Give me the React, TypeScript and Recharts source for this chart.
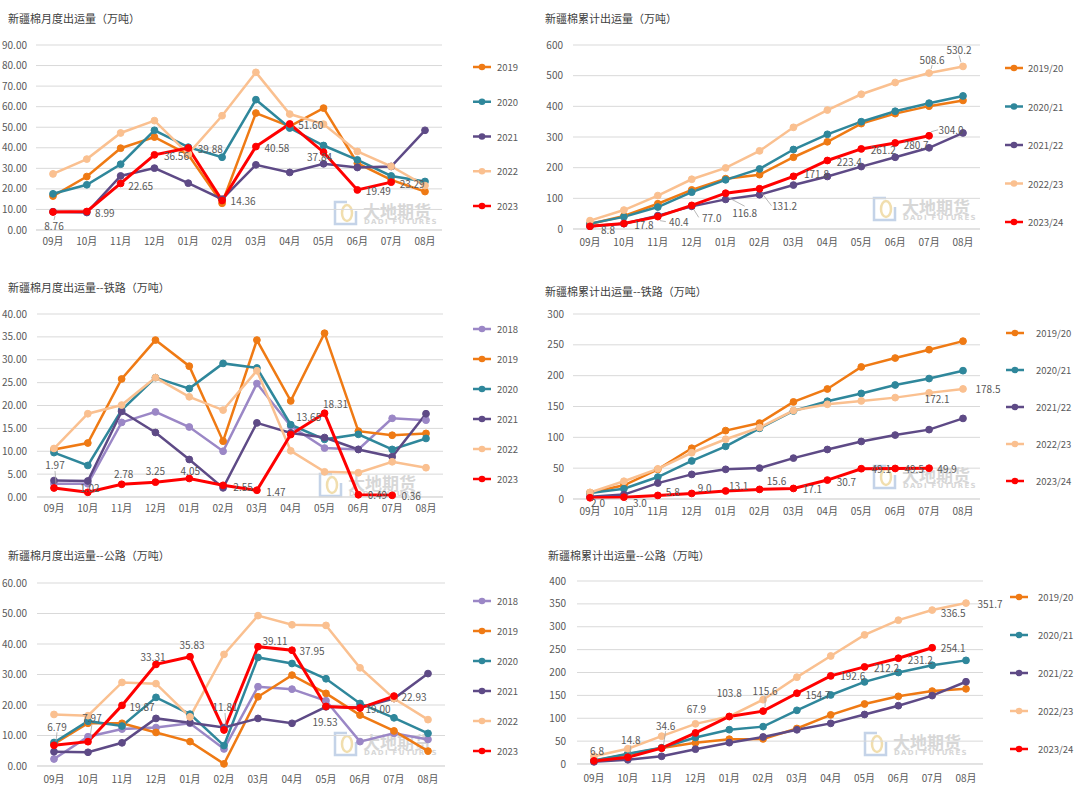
import React from 'react';
import { LineChart, Line, XAxis, YAxis, CartesianGrid, LabelList } from 'recharts';

const FONT = "'Noto Sans CJK SC', 'Noto Sans', sans-serif";
const GRID = '#D9D9D9';
const TXT = '#595959';

const C18 = '#9B87C6';
const C19 = '#EF7A14';
const C20 = '#2F879B';
const C21 = '#5E4A86';
const C22 = '#FAC090';
const C23 = '#FF0000';

const months = ['09月', '10月', '11月', '12月', '01月', '02月', '03月', '04月', '05月', '06月', '07月', '08月'];

// 月度出运量（合计）
const total2019 = [16.5, 26.0, 39.8, 45.2, 36.6, 13.0, 56.9, 50.4, 59.3, 32.5, 24.4, 18.7];
const total2020 = [17.6, 22.0, 32.0, 48.5, 40.3, 35.4, 63.4, 49.6, 41.1, 34.1, 26.3, 23.6];
const total2021 = [8.9, 8.5, 26.3, 30.1, 22.8, 15.0, 31.7, 28.0, 32.2, 30.4, 30.9, 48.5];
const total2022 = [27.3, 34.5, 47.2, 53.2, 37.0, 55.6, 76.7, 56.4, 51.5, 38.2, 31.0, 21.6];
const total2023 = [8.76, 8.99, 22.65, 36.56, 39.88, 14.36, 40.58, 51.6, 37.84, 19.49, 23.29];

// 累计出运量（合计）
const cum1920 = [16.5, 42.5, 82.3, 127.5, 164.1, 177.1, 234.0, 284.4, 343.7, 376.2, 400.6, 419.3];
const cum2021 = [17.6, 39.6, 71.6, 120.1, 160.4, 195.8, 259.2, 308.8, 349.9, 384.0, 410.3, 433.9];
const cum2122 = [8.9, 17.4, 43.7, 73.8, 96.6, 111.6, 143.3, 171.3, 203.5, 233.9, 264.8, 313.3];
const cum2223 = [27.3, 61.8, 109.0, 162.2, 199.2, 254.8, 331.5, 387.9, 439.4, 477.6, 508.6, 530.2];
const cum2324 = [8.8, 17.8, 40.4, 77.0, 116.8, 131.2, 171.8, 223.4, 261.2, 280.7, 304.0];

// 月度出运量--铁路
const rail2018 = [2.9, 2.9, 16.3, 18.6, 15.3, 10.0, 24.8, 15.5, 10.7, 10.4, 17.2, 16.8];
const rail2019 = [10.4, 11.8, 25.8, 34.3, 28.6, 12.2, 34.3, 21.0, 35.8, 14.4, 13.5, 13.9];
const rail2020 = [9.7, 6.9, 19.0, 26.1, 23.7, 29.2, 28.2, 15.8, 12.6, 13.7, 10.4, 12.8];
const rail2021 = [3.6, 3.5, 18.7, 14.1, 8.2, 2.0, 16.2, 14.0, 13.0, 10.4, 8.8, 18.2];
const rail2022 = [10.6, 18.2, 20.1, 26.1, 21.9, 19.0, 27.6, 10.1, 5.5, 5.3, 7.7, 6.4];
const rail2023 = [1.97, 1.02, 2.78, 3.25, 4.05, 2.55, 1.47, 13.65, 18.31, 0.49, 0.36];

// 累计出运量--铁路
const rcum1920 = [10.4, 22.2, 48.0, 82.3, 110.9, 123.1, 157.4, 178.4, 214.2, 228.6, 242.1, 256.0];
const rcum2021 = [9.7, 16.6, 35.6, 61.7, 85.4, 114.6, 142.8, 158.6, 171.2, 184.9, 195.3, 208.1];
const rcum2122 = [3.6, 7.1, 25.8, 39.9, 48.1, 50.1, 66.3, 80.3, 93.3, 103.7, 112.5, 130.7];
const rcum2223 = [10.6, 28.8, 48.9, 75.0, 96.9, 115.9, 143.5, 153.6, 159.1, 164.4, 172.1, 178.5];
const rcum2324 = [2.0, 3.0, 5.8, 9.0, 13.1, 15.6, 17.1, 30.7, 49.1, 49.5, 49.9];

// 月度出运量--公路
const road2018 = [2.3, 9.6, 12.1, 12.6, 14.0, 5.6, 26.0, 25.2, 21.4, 8.0, 10.7, 8.7];
const road2019 = [7.2, 14.0, 14.0, 11.0, 8.0, 0.7, 22.7, 29.8, 23.8, 16.7, 11.5, 4.9];
const road2020 = [7.7, 14.7, 13.1, 22.5, 17.0, 6.7, 35.6, 33.6, 28.6, 20.5, 15.8, 10.7];
const road2021 = [4.7, 4.5, 7.6, 15.6, 14.2, 12.6, 15.6, 14.0, 19.4, 19.2, 22.1, 30.3];
const road2022 = [16.9, 16.5, 27.4, 27.0, 16.1, 36.6, 49.3, 46.3, 46.1, 32.2, 22.1, 15.2];
const road2023 = [6.79, 7.97, 19.87, 33.31, 35.83, 11.81, 39.11, 37.95, 19.53, 19.0, 22.93];

// 累计出运量--公路
const dcum1920 = [7.2, 21.2, 35.2, 46.2, 54.2, 54.9, 77.6, 107.4, 131.2, 147.9, 159.4, 164.3];
const dcum2021 = [7.7, 22.4, 35.5, 58.0, 75.0, 81.7, 117.3, 150.9, 179.5, 200.0, 215.8, 226.5];
const dcum2122 = [4.7, 9.2, 16.8, 32.4, 46.6, 59.2, 74.8, 88.8, 108.2, 127.4, 149.5, 179.8];
const dcum2223 = [16.9, 33.4, 60.8, 87.8, 103.9, 140.5, 189.8, 236.1, 282.2, 314.4, 336.5, 351.7];
const dcum2324 = [6.8, 14.8, 34.6, 67.9, 103.8, 115.6, 154.7, 192.6, 212.2, 231.2, 254.1];

type Series = { name: string; values: number[]; color: string; labels?: { [i: number]: [number, number, boolean?] } };

interface PanelProps {
  left: number;
  top: number;
  title: string;
  titleX: number;
  titleY: number;
  series: Series[];
  yMax: number;
  yStep: number;
  yDigits: number;
  labelDigits: number;
  margin: { top: number; right: number; bottom: number };
  yWidth: number;
  yTickMargin: number;
  xTickMargin: number;
  legendX: number;
  legendTextX: number;
  legendY: number;
  legendGap: number;
  mark: [number, number];
}

const makeLabel = (s: Series, digits: number) => (p: any) => {
  const x = p.x ?? p.viewBox?.x;
  const y = p.y ?? p.viewBox?.y;
  const idx = typeof p.index === 'number' ? p.index : s.values.indexOf(p.value);
  const off = s.labels ? s.labels[idx] : undefined;
  if (!off || p.value == null || x == null || y == null) return null;
  const [dx, dy, leader] = off;
  let lead = null;
  if (leader) {
    let ex = x + dx;
    let ey = y + dy;
    if (Math.abs(dy) >= Math.abs(dx)) ey -= Math.sign(dy) * 6;
    else ex -= Math.sign(dx) * 13;
    lead = <line x1={x + Math.sign(ex - x) * 2} y1={y + Math.sign(ey - y) * 4} x2={ex} y2={ey} stroke="#A6A6A6" strokeWidth={0.8} />;
  }
  return (
    <g key={`lb-${s.name}-${idx}`}>
      {lead}
      <text x={x + dx} y={y + dy} textAnchor="middle" dominantBaseline="central" fontSize={10} fontFamily={FONT} fill={TXT}>
        {Number(p.value).toFixed(digits)}
      </text>
    </g>
  );
};

const Mark = ({ x, y }: { x: number; y: number }) => (
  <g opacity={0.6}>
    <path d={`M${x + 14} ${y + 1} H${x + 2} V${y + 23} H${x + 23} V${y + 10}`} fill="none" stroke="#9DB7DA" strokeWidth={2.5} />
    <ellipse cx={x + 14} cy={y + 12} rx={5} ry={8} fill="none" stroke="#E9C97A" strokeWidth={2.5} />
    <text x={x + 30} y={y + 9} fontSize={17} fontWeight="bold" fill="#BDBDBD" dominantBaseline="central" fontFamily={FONT}>
      大地期货
    </text>
    <text x={x + 31} y={y + 21} fontSize={7} fontWeight="bold" letterSpacing={1.3} fill="#BDBDBD" dominantBaseline="central" fontFamily="'DejaVu Sans', sans-serif">
      DADI FUTURES
    </text>
  </g>
);

const Panel = (props: PanelProps) => {
  const { series } = props;
  const rows = months.map((m, i) => {
    const row: any = { month: m };
    series.forEach((s, k) => {
      row[`s${k}`] = s.values[i] ?? null;
    });
    return row;
  });
  const ticks: number[] = [];
  for (let v = 0; v <= props.yMax + 1e-9; v += props.yStep) ticks.push(v);

  return (
    <div style={{ position: 'absolute', left: props.left, top: props.top, width: 540, height: 268 }}>
      <svg width={540} height={268} style={{ position: 'absolute', left: 0, top: 0 }}>
        <text x={props.titleX} y={props.titleY} fontSize={11} fill="#404040" dominantBaseline="central" fontFamily={FONT}>
          {props.title}
        </text>
        <Mark x={props.mark[0]} y={props.mark[1]} />
        {series.map((s, i) => {
          const cy = props.legendY + i * props.legendGap;
          return (
            <g key={s.name}>
              <line x1={props.legendX} x2={props.legendX + 18} y1={cy} y2={cy} stroke={s.color} strokeWidth={2.5} />
              <circle cx={props.legendX + 9} cy={cy} r={3.3} fill={s.color} />
              <text x={props.legendTextX} y={cy} fontSize={9.5} fill={TXT} dominantBaseline="central" fontFamily={FONT}>
                {s.name}
              </text>
            </g>
          );
        })}
      </svg>
      <div style={{ position: 'absolute', left: 0, top: 0 }}>
        <LineChart width={540} height={268} data={rows} margin={{ top: props.margin.top, right: props.margin.right, bottom: props.margin.bottom, left: 0 }}>
          <CartesianGrid vertical={false} stroke={GRID} strokeWidth={1} />
          <XAxis
            dataKey="month"
            interval={0}
            padding={{ left: 17, right: 17 }}
            tickLine={false}
            tickSize={0}
            tickMargin={props.xTickMargin}
            axisLine={{ stroke: GRID }}
            tick={{ fontSize: 10, fill: TXT, fontFamily: FONT }}
          />
          <YAxis
            width={props.yWidth}
            domain={[0, props.yMax]}
            ticks={ticks}
            interval={0}
            axisLine={false}
            tickLine={false}
            tickSize={0}
            tickMargin={props.yTickMargin}
            tickFormatter={(v: number) => v.toFixed(props.yDigits)}
            tick={{ fontSize: 10, fill: TXT, fontFamily: FONT }}
          />
          {series.map((s, k) => (
            <Line
              key={s.name}
              type="linear"
              dataKey={`s${k}`}
              name={s.name}
              stroke={s.color}
              strokeWidth={s.color === C23 ? 3 : 2.5}
              dot={{ r: 3.4, fill: s.color, stroke: s.color, strokeWidth: 1 }}
              activeDot={false}
              isAnimationActive={false}
            >
              {s.labels ? <LabelList dataKey={`s${k}`} content={makeLabel(s, props.labelDigits)} /> : null}
            </Line>
          ))}
        </LineChart>
      </div>
    </div>
  );
};

const App = () => (
  <div style={{ position: 'absolute', left: 0, top: 0, width: 1080, height: 804, background: '#fff', fontFamily: FONT }}>
    <Panel
      left={0}
      top={0}
      title="新疆棉月度出运量（万吨）"
      titleX={8}
      titleY={18}
      yMax={90}
      yStep={10}
      yDigits={2}
      labelDigits={2}
      margin={{ top: 45, right: 98, bottom: 8 }}
      yWidth={36}
      yTickMargin={9}
      xTickMargin={8}
      legendX={473}
      legendTextX={497}
      legendY={67}
      legendGap={34.75}
      mark={[333, 201]}
      series={[
        { name: '2019', values: total2019, color: C19 },
        { name: '2020', values: total2020, color: C20 },
        { name: '2021', values: total2021, color: C21 },
        { name: '2022', values: total2022, color: C22 },
        {
          name: '2023',
          values: total2023,
          color: C23,
          labels: { 0: [1, 14, true], 1: [18, 1], 2: [20, 2], 3: [22, 1], 4: [22, 0], 5: [21, 0], 6: [21, 1], 7: [21, 1], 8: [-4, 4], 9: [21, 1], 10: [21, 1] },
        },
      ]}
    />
    <Panel
      left={540}
      top={0}
      title="新疆棉累计出运量（万吨）"
      titleX={5}
      titleY={18}
      yMax={600}
      yStep={100}
      yDigits={0}
      labelDigits={1}
      margin={{ top: 45, right: 100, bottom: 9 }}
      yWidth={33}
      yTickMargin={10}
      xTickMargin={10}
      legendX={465}
      legendTextX={488}
      legendY={68}
      legendGap={38.5}
      mark={[332, 197]}
      series={[
        { name: '2019/20', values: cum1920, color: C19 },
        { name: '2020/21', values: cum2021, color: C20 },
        { name: '2021/22', values: cum2122, color: C21 },
        { name: '2022/23', values: cum2223, color: C22, labels: { 10: [3, -14, true], 11: [-4, -17, true] } },
        {
          name: '2023/24',
          values: cum2324,
          color: C23,
          labels: { 0: [18, 3], 1: [20, 1], 2: [21, 5, true], 3: [20, 12, true], 4: [19, 19, true], 5: [25, 17, true], 6: [23, -3], 7: [22, 1], 8: [22, 1], 9: [21, 2], 10: [22, -6, true] },
        },
      ]}
    />
    <Panel
      left={0}
      top={268}
      title="新疆棉月度出运量--铁路（万吨）"
      titleX={8}
      titleY={19}
      yMax={40}
      yStep={5}
      yDigits={2}
      labelDigits={2}
      margin={{ top: 46, right: 97, bottom: 9 }}
      yWidth={37}
      yTickMargin={10}
      xTickMargin={8}
      legendX={473}
      legendTextX={497}
      legendY={61}
      legendGap={30}
      mark={[318, 205]}
      series={[
        { name: '2018', values: rail2018, color: C18 },
        { name: '2019', values: rail2019, color: C19 },
        { name: '2020', values: rail2020, color: C20 },
        { name: '2021', values: rail2021, color: C21 },
        { name: '2022', values: rail2022, color: C22 },
        {
          name: '2023',
          values: rail2023,
          color: C23,
          labels: { 0: [1, -23, true], 1: [2, -5], 2: [2, -11], 3: [0, -12], 4: [1, -8], 5: [20, 1], 6: [19, 1], 7: [18, -18], 8: [11, -10], 9: [19, 0], 10: [19, 0] },
        },
      ]}
    />
    <Panel
      left={540}
      top={268}
      title="新疆棉累计出运量--铁路（万吨）"
      titleX={5}
      titleY={23}
      yMax={300}
      yStep={50}
      yDigits={0}
      labelDigits={1}
      margin={{ top: 46, right: 100, bottom: 7 }}
      yWidth={33}
      yTickMargin={9}
      xTickMargin={9}
      legendX={466}
      legendTextX={496}
      legendY={65}
      legendGap={37}
      mark={[332, 197]}
      series={[
        { name: '2019/20', values: rcum1920, color: C19 },
        { name: '2020/21', values: rcum2021, color: C20 },
        { name: '2021/22', values: rcum2122, color: C21 },
        { name: '2022/23', values: rcum2223, color: C22, labels: { 10: [8, 6], 11: [25, 0] } },
        {
          name: '2023/24',
          values: rcum2324,
          color: C23,
          labels: { 0: [8, 5], 1: [16, 5, true], 2: [15, -4], 3: [13, -6], 4: [13, -5], 5: [17, -9], 6: [19, 0], 7: [19, 1], 8: [20, 0], 9: [19, 0], 10: [18, 0] },
        },
      ]}
    />
    <Panel
      left={0}
      top={536}
      title="新疆棉月度出运量--公路（万吨）"
      titleX={8}
      titleY={19}
      yMax={60}
      yStep={10}
      yDigits={2}
      labelDigits={2}
      margin={{ top: 47, right: 95, bottom: 8 }}
      yWidth={37}
      yTickMargin={10}
      xTickMargin={10}
      legendX={473}
      legendTextX={497}
      legendY={65}
      legendGap={30}
      mark={[333, 196]}
      series={[
        { name: '2018', values: road2018, color: C18 },
        { name: '2019', values: road2019, color: C19 },
        { name: '2020', values: road2020, color: C20 },
        { name: '2021', values: road2021, color: C21 },
        { name: '2022', values: road2022, color: C22 },
        {
          name: '2023',
          values: road2023,
          color: C23,
          labels: { 0: [3, -19, true], 1: [4, -24, true], 2: [20, 1], 3: [-3, -8], 4: [2, -12], 5: [1, -23, true], 6: [17, -6], 7: [20, 0], 8: [-1, 15], 9: [18, 0], 10: [20, 0] },
        },
      ]}
    />
    <Panel
      left={540}
      top={536}
      title="新疆棉累计出运量--公路（万吨）"
      titleX={8}
      titleY={19}
      yMax={400}
      yStep={50}
      yDigits={0}
      labelDigits={1}
      margin={{ top: 45, right: 97, bottom: 10 }}
      yWidth={37}
      yTickMargin={11}
      xTickMargin={11}
      legendX={470}
      legendTextX={498}
      legendY={61}
      legendGap={38}
      mark={[323, 196]}
      series={[
        { name: '2019/20', values: dcum1920, color: C19 },
        { name: '2020/21', values: dcum2021, color: C20 },
        { name: '2021/22', values: dcum2122, color: C21 },
        { name: '2022/23', values: dcum2223, color: C22, labels: { 10: [21, 2], 11: [24, 0] } },
        {
          name: '2023/24',
          values: dcum2324,
          color: C23,
          labels: { 0: [3, -10], 1: [3, -18, true], 2: [4, -23, true], 3: [1, -24], 4: [0, -24], 5: [2, -21, true], 6: [21, 1], 7: [22, 0], 8: [22, 1], 9: [22, 1], 10: [21, 0] },
        },
      ]}
    />
  </div>
);

export default App;
